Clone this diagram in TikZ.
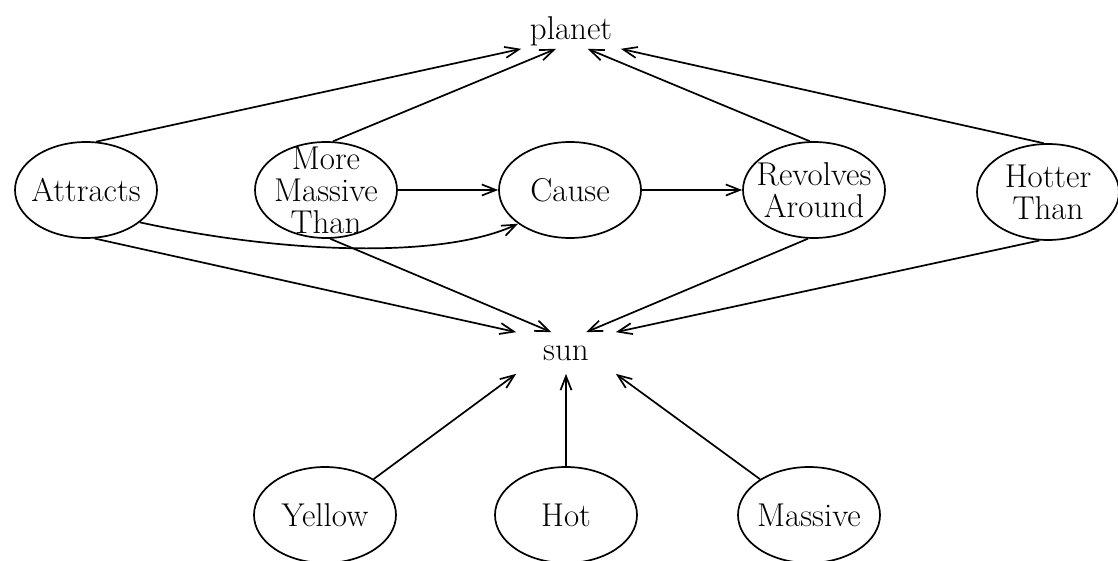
\documentclass[tikz,border=0pt]{standalone}
\usetikzlibrary{arrows.meta,shapes.geometric}

\begin{document}
\begin{tikzpicture}[x=1pt, y=-1pt, line width=1.7pt,
    font=\fontsize{33}{32}\selectfont,
    rel/.style={ellipse, draw, minimum width=142pt, minimum height=96pt,
                inner xsep=-40pt, inner ysep=-50pt, align=center},
    obj/.style={rectangle, inner sep=0pt, minimum width=98pt, minimum height=34pt},
    arr/.style={-{Straight Barb[length=14pt, width=11pt]}}]
  \useasboundingbox (0,0) rectangle (1118,561);

  % the two objects
  \node[obj] (planet) at (571,31) {planet};
  \node[obj, minimum height=40pt] (sun) at (566,353) {sun};

  % relations in the middle row
  \node[rel] (attracts)    at (86,190)   {Attracts};
  \node[rel] (massivethan) at (326,190)  {More\\Massive\\Than};
  \node[rel] (cause)       at (570,190)  {Cause};
  \node[rel] (revolves)    at (814,190)  {Revolves\\Around};
  \node[rel] (hotter)      at (1048,192) {Hotter\\Than};

  % attributes of the sun
  \node[rel] (yellow)  at (325,515) {Yellow};
  \node[rel] (hot)     at (566,515) {Hot};
  \node[rel] (massive) at (809,515) {Massive};

  % up to planet
  \draw[arr] (attracts.78)    -- (planet.south west);
  \draw[arr] (massivethan.82) -- (planet.230);
  \draw[arr] (revolves.95)    -- (planet.-47);
  \draw[arr] (hotter.95)      -- (planet.south east);

  % the causal chain
  \draw[arr] (massivethan) -- (cause);
  \draw[arr] (cause) -- (revolves);
  \draw[arr] (attracts.-31) .. controls (290,255) and (445,258) .. (cause.213);

  % down to sun
  \draw[arr] (attracts.-80)    -- (sun.north west);
  \draw[arr] (massivethan.-85) -- (sun.125);
  \draw[arr] (revolves.-97)    -- (sun.46);
  \draw[arr] (hotter.-100)     -- (sun.north east);

  % attributes up to sun
  \draw[arr] (yellow)  -- (sun.south west);
  \draw[arr] (hot)     -- (sun.south);
  \draw[arr] (massive) -- (sun.south east);
\end{tikzpicture}
\end{document}
